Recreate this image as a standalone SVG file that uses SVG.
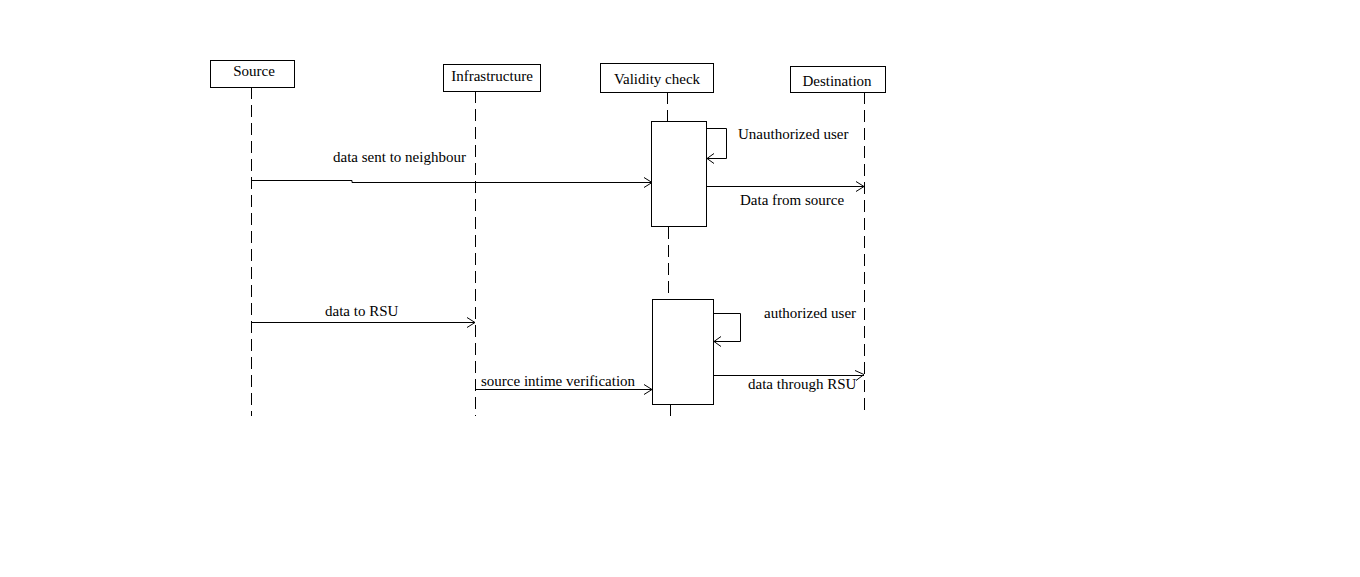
<svg xmlns="http://www.w3.org/2000/svg" width="1360" height="577" viewBox="0 0 1360 577">
<style>
.box{fill:#fff;stroke:#000;stroke-width:1}
.life{stroke:#000;stroke-width:1;stroke-dasharray:12,6;fill:none}
.msg{stroke:#000;stroke-width:1;fill:none}
.head{stroke:#000;stroke-width:1;fill:none}
text{font-family:"Liberation Serif","Times New Roman",serif;font-size:15px;fill:#000}
.c{text-anchor:middle}
</style>
<rect width="1360" height="577" fill="#fff"/>
<g id="lifelines">
<line class="life" x1="251.5" y1="87" x2="251.5" y2="416"/>
<line class="life" x1="475.5" y1="91" x2="475.5" y2="416"/>
<line class="life" x1="667.5" y1="92" x2="667.5" y2="121"/>
<line class="life" x1="668.5" y1="227" x2="668.5" y2="299"/>
<line class="life" x1="670.5" y1="404" x2="670.5" y2="418"/>
<line class="life" x1="864.5" y1="92" x2="864.5" y2="416"/>
</g>
<g id="source"><rect class="box" x="210.5" y="60.5" width="84" height="27"/><text class="c" x="254" y="76">Source</text></g>
<g id="infrastructure"><rect class="box" x="443.5" y="64.5" width="97" height="27"/><text class="c" x="492" y="81">Infrastructure</text></g>
<g id="validity"><rect class="box" x="600.5" y="63.5" width="113" height="29"/><text class="c" x="657" y="84">Validity check</text></g>
<g id="destination"><rect class="box" x="790.5" y="66.5" width="95" height="26"/><text class="c" x="837" y="86">Destination</text></g>
<g id="activation1"><rect class="box" x="651.5" y="121.5" width="55" height="105"/></g>
<g id="activation2"><rect class="box" x="652.5" y="299.5" width="61" height="105"/></g>
<g id="connectors">
<polyline class="msg" points="251,180.5 352,180.5 352,182.5 652,182.5"/>
<polyline class="head" points="644,177.5 652,182.5 644,187.5"/>
<polyline class="msg" points="706,128.5 726.5,128.5 726.5,158.5 707,158.5"/>
<polyline class="head" points="714,153.5 707,158.5 714,163.5"/>
<line class="msg" x1="706" y1="186.5" x2="864" y2="186.5"/>
<polyline class="head" points="856,181.5 864,186.5 856,191.5"/>
<line class="msg" x1="251" y1="322.5" x2="475" y2="322.5"/>
<polyline class="head" points="467,317.5 475,322.5 467,327.5"/>
<polyline class="msg" points="713,313.5 740.5,313.5 740.5,341.5 714,341.5"/>
<polyline class="head" points="721,336.5 714,341.5 721,346.5"/>
<line class="msg" x1="475" y1="389.5" x2="652" y2="389.5"/>
<polyline class="head" points="644,384.5 652,389.5 644,394.5"/>
<line class="msg" x1="713" y1="375.5" x2="864" y2="375.5"/>
<polyline class="head" points="855,370.5 864,374.5 856,380.5"/>
</g>
<g id="labels">
<text x="333" y="162">data sent to neighbour</text>
<text x="738" y="139">Unauthorized user</text>
<text x="740" y="205">Data from source</text>
<text x="325" y="316">data to RSU</text>
<text x="764" y="318">authorized user</text>
<text x="481" y="386">source intime verification</text>
<text x="748" y="389">data through RSU</text>
</g>
</svg>
